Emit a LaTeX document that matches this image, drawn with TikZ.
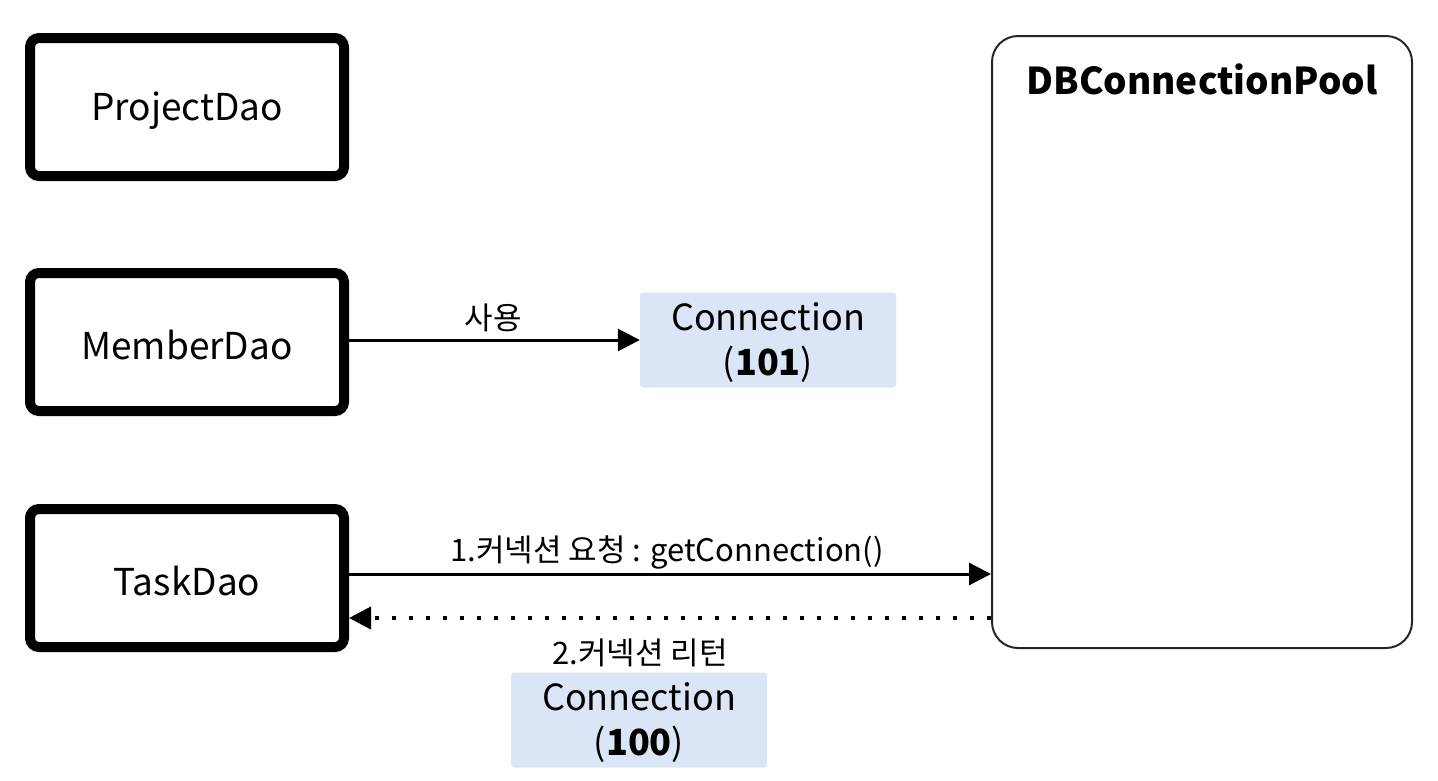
\documentclass[tikz,border=0pt]{standalone}
\usepackage{fontspec}
\setmainfont{Noto Sans CJK KR}
\usetikzlibrary{arrows.meta}
\definecolor{connblue}{HTML}{DAE6F5}
\newcommand{\lowtext}[2]{\raisebox{-#1}[\height][\depth]{#2}}
\tikzset{
  daobox/.style={draw=black, line width=10pt, rounded corners=9pt, minimum width=314pt, minimum height=138pt, inner sep=0pt, font=\fontsize{37}{40}\selectfont},
  poolbox/.style={draw=black!85, line width=2pt, rounded corners=26pt, minimum width=420pt, minimum height=612pt, inner sep=0pt},
  connbox/.style={fill=connblue, rounded corners=3pt, minimum width=256pt, minimum height=95pt, inner sep=0pt, font=\fontsize{36}{45}\selectfont},
  lbl/.style={font=\fontsize{31}{34}\selectfont, inner sep=0pt},
  arr/.style={line width=3pt, -{Triangle[length=22pt,width=22pt]}},
  dotarr/.style={line width=4pt, dash pattern=on 4pt off 13pt, -{Triangle[length=22pt,width=22pt]}}
}
\begin{document}
\begin{tikzpicture}[x=1pt,y=-1pt]
\useasboundingbox (0,0) rectangle (1438,780);
\node[daobox] (proj) at (187,107) {\lowtext{4pt}{ProjectDao}};
\node[daobox] (member) at (187,342) {\lowtext{3pt}{MemberDao}};
\node[daobox] (task) at (187,578) {\lowtext{3pt}{TaskDao}};
\node[poolbox] (pool) at (1202,342) {};
\node[font=\bfseries\fontsize{37}{40}\selectfont, anchor=center] (pooltitle) at (1202,79) {DBConnectionPool};
\node[connbox] (c101) at (768,340) {\lowtext{4pt}{\begin{tabular}{@{}c@{}}Connection\\(\textbf{101})\end{tabular}}};
\node[connbox] (c100) at (639,720) {\lowtext{4pt}{\begin{tabular}{@{}c@{}}Connection\\(\textbf{100})\end{tabular}}};
\draw[arr] (member.east |- 0,340) -- (c101.west |- 0,340);
\node[lbl] (use) at (493,318) {사용};
\coordinate (t1) at (349,574);
\coordinate (p1) at (991,574);
\draw[arr] (t1) -- (p1);
\node[lbl] (req) at (667,552) {1.커넥션 요청 : getConnection()};
\coordinate (p2) at (991,618);
\coordinate (t2) at (349,618);
\draw[dotarr] (p2) -- (t2);
\node[lbl] (ret) at (640,653) {2.커넥션 리턴};
\end{tikzpicture}
\end{document}
